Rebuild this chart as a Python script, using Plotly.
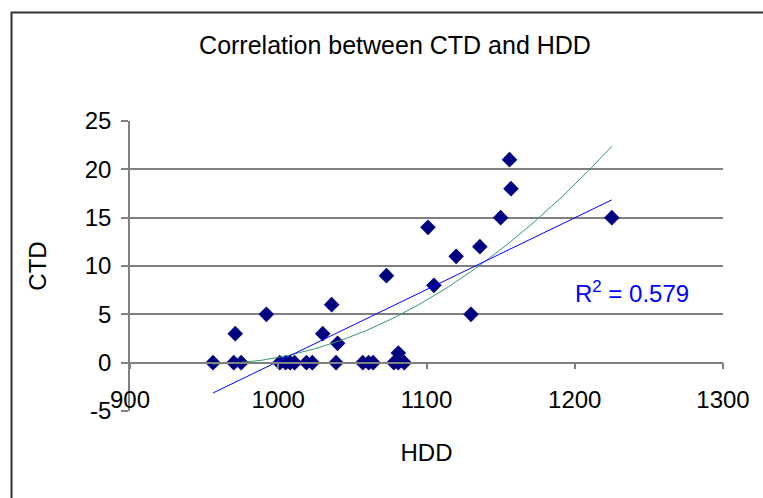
import numpy as np
import plotly.graph_objects as go

# Data
hdd = [956, 970, 975, 1001, 1005, 1008, 1011, 1019, 1023, 1039, 1057, 1061, 1064,
       1078, 1081, 1085,
       971, 992, 1030, 1036, 1040, 1081, 1073, 1101, 1105, 1120, 1136, 1130,
       1150, 1156, 1157, 1225]
ctd = [0, 0, 0, 0, 0, 0, 0, 0, 0, 0, 0, 0, 0,
       0, 0, 0,
       3, 5, 3, 6, 2, 1, 9, 14, 8, 11, 12, 5,
       15, 21, 18, 15]

title_text = "Correlation between CTD and HDD"
x_title = "HDD"
y_title = "CTD"
r2_text = "R<sup>2</sup> = 0.579"
x_ticks = [900, 1000, 1100, 1200, 1300]
y_ticks = [-5, 0, 5, 10, 15, 20, 25]
y_ticktext = ["-5", "0", "5", "10", "15", "20", "25"]

x = np.array(hdd, dtype=float)
y = np.array(ctd, dtype=float)
xs = np.linspace(x.min(), x.max(), 200)
lin = np.polyval(np.polyfit(x, y, 1), xs)
poly = np.polyval(np.polyfit(x, y, 2), xs)

fig = go.Figure()
fig.add_trace(go.Scatter(x=hdd, y=ctd, mode="markers",
                         marker=dict(symbol="diamond", size=12, color="#000080"),
                         showlegend=False, cliponaxis=False))
fig.add_trace(go.Scatter(x=xs, y=poly, mode="lines",
                         line=dict(color="#339966", width=1), showlegend=False))
fig.add_trace(go.Scatter(x=xs, y=lin, mode="lines",
                         line=dict(color="#0000FF", width=1), showlegend=False))

font = "Liberation Sans, Arial, sans-serif"
FS = 24
fig.update_layout(
    width=763, height=498,
    margin=dict(l=130, r=40, t=121, b=87),
    paper_bgcolor="white", plot_bgcolor="white",
    font=dict(family=font, size=FS, color="black"),
    title=dict(text=title_text, xref="paper", x=(395 - 130) / 593, xanchor="center",
               yref="container", y=1 - 45 / 498, yanchor="middle",
               font=dict(size=25, family=font, color="black")),
    xaxis=dict(range=[900, 1300], tickvals=x_ticks, showgrid=False, zeroline=False,
               anchor="free", position=5 / 30, showline=True, linecolor="#808080",
               linewidth=1.5, ticks="outside", ticklen=6, tickcolor="#808080",
               tickwidth=1.5, ticklabelstandoff=10,
               tickfont=dict(size=FS),
               title=dict(text=x_title, standoff=31, font=dict(size=FS))),
    yaxis=dict(range=[-5, 25], tickvals=y_ticks, ticktext=y_ticktext,
               showgrid=True, gridcolor="#808080",
               gridwidth=1.5, zeroline=False, showline=True, linecolor="#808080",
               linewidth=1.5, ticks="outside", ticklen=7, tickcolor="#808080",
               tickwidth=1.5, tickfont=dict(size=FS), ticklabelstandoff=5,
               title=dict(text=y_title, standoff=31, font=dict(size=FS))),
    annotations=[dict(text=r2_text, xref="paper", yref="paper",
                      x=(632 - 130) / 593, y=(411 - 292) / 290,
                      xanchor="center", yanchor="middle", showarrow=False,
                      font=dict(size=FS, color="#0000FF", family=font))],
    shapes=[dict(type="rect", xref="paper", yref="paper",
                 x0=(11.5 - 130) / 593, x1=(780 - 130) / 593,
                 y0=(411 - 510) / 290, y1=(411 - 12.5) / 290,
                 line=dict(color="#333333", width=2), layer="below")],
)
fig.write_html("out.html",
               config={"displayModeBar": False},
               post_script="document.body.style.margin='0px';"
                           "document.body.style.overflow='hidden';")
